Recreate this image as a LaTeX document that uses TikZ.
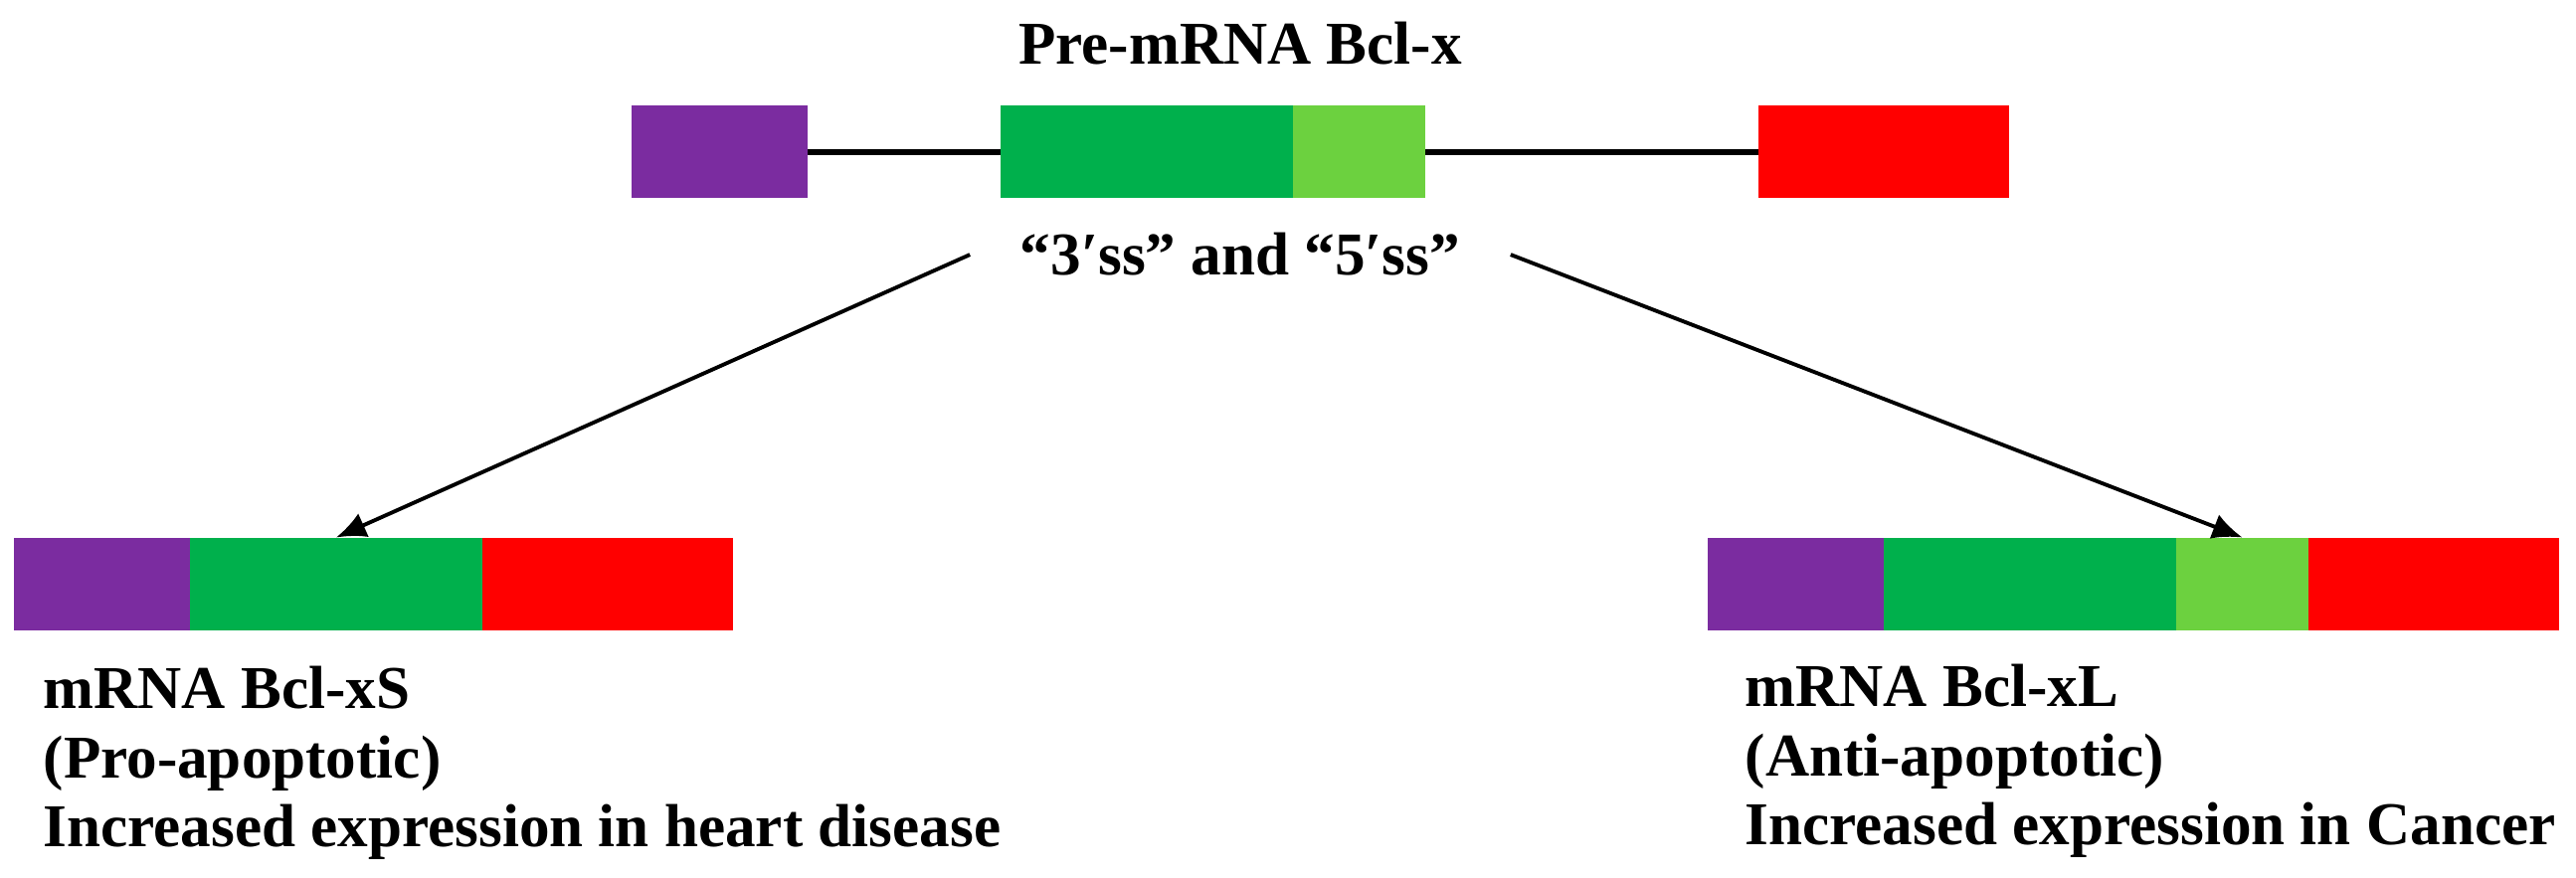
\documentclass[tikz,border=0pt]{standalone}
\usepackage{fontspec}
\setmainfont{Liberation Serif}
\usepackage{tikz}
\usetikzlibrary{positioning,arrows.meta}
\definecolor{exonpurple}{HTML}{7B2CA0}
\definecolor{exongreen}{HTML}{00B04C}
\definecolor{exonlight}{HTML}{6CD13F}
\definecolor{exonred}{HTML}{FF0000}

\begin{document}
\begin{tikzpicture}[x=0.1mm, y=-0.1mm, node distance=0mm,
  exon/.style={rectangle, inner sep=0pt, outer sep=0pt, minimum height=9.3mm},
  txt/.style={font=\fontsize{17.4pt}{19.8pt}\selectfont\bfseries, inner sep=0pt}]
\useasboundingbox (0,0) rectangle (2590,883);

% pre-mRNA
\node[exon, fill=exonpurple, minimum width=17.7mm, anchor=west] (p0) at (635,153) {};
\node[exon, fill=exongreen, minimum width=29.4mm] (g0) [right=19.4mm of p0] {};
\node[exon, fill=exonlight, minimum width=13.3mm] (l0) [right=of g0] {};
\node[exon, fill=exonred, minimum width=25.2mm] (r0) [right=33.5mm of l0] {};
\draw[line width=1.6pt] (p0) -- (g0) (l0) -- (r0);
\node[txt, anchor=base] (pre) at (1247,65) {Pre-mRNA Bcl-x};
\node[txt, inner xsep=5mm, anchor=base] (ss) at (1247,277) {“3′ss” and “5′ss”};

% Bcl-xS
\node[exon, fill=exonpurple, minimum width=17.7mm, anchor=west] (pS) at (14,587) {};
\node[exon, fill=exongreen, minimum width=29.4mm] (gS) [right=of pS] {};
\node[exon, fill=exonred, minimum width=25.2mm] (rS) [right=of gS] {};
\node[txt, align=left, below right=3.6mm and 2.9mm of pS.south west] (tS)
  {mRNA Bcl-xS\\(Pro-apoptotic)\\Increased expression in heart disease};

% Bcl-xL
\node[exon, fill=exonpurple, minimum width=17.7mm, anchor=west] (pL) at (1717,587) {};
\node[exon, fill=exongreen, minimum width=29.4mm] (gL) [right=of pL] {};
\node[exon, fill=exonlight, minimum width=13.3mm] (lL) [right=of gL] {};
\node[exon, fill=exonred, minimum width=25.2mm] (rL) [right=of lL] {};
\node[txt, align=left, below right=3.4mm and 3.7mm of pL.south west] (tL)
  {mRNA Bcl-xL\\(Anti-apoptotic)\\Increased expression in Cancer};

\path[-{Latex[length=3mm,width=2.6mm]}, line width=1.1pt]
  (ss.west) edge (gS.north)
  (ss.east) edge (lL.north);
\end{tikzpicture}
\end{document}
